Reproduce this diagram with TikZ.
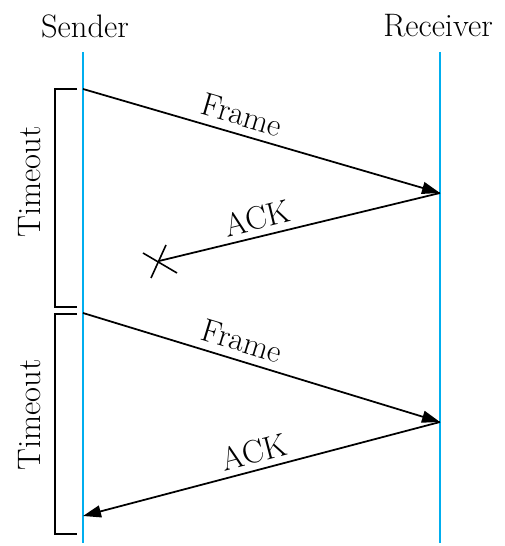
\documentclass[tikz,border=0pt]{standalone}
\usepackage{tikz}
\usepackage{color}
\usetikzlibrary{positioning, calc}
\usetikzlibrary{arrows.meta}
\definecolor{lineblue}{RGB}{0,174,239}

\begin{document}
\begin{tikzpicture}[font=\fontsize{18.5}{22}\selectfont, >={Triangle[length=3.6mm,width=2.4mm]}]
                \useasboundingbox (0,0) rectangle (10.08,10.92);
                \node (sender) at (1.7,10.4) {Sender};
                \node (receiver) at (8.76,10.4) {Receiver};
                \coordinate (stop) at (1.66,9.88);
                \coordinate (sbot) at (1.66,0.06);
                \coordinate (rtop) at (8.8,9.88);
                \coordinate (rbot) at (8.8,0.06);
                \draw[lineblue, line width=1pt] (stop) -- (sbot);
                \draw[lineblue, line width=1pt] (rtop) -- (rbot);
                % timeout brackets
                \draw[line width=0.8pt] (1.54,9.14) -- (1.1,9.14) -- (1.1,4.78) -- (1.54,4.78);
                \draw[line width=0.8pt] (1.54,4.64) -- (1.1,4.64) -- (1.1,0.24) -- (1.54,0.24);
                \node[rotate=90] (timeout1) at (0.6,7.28) {Timeout};
                \node[rotate=90] (timeout2) at (0.6,2.62) {Timeout};
                % frames and acks
                \coordinate (s1) at (1.66,9.14);
                \coordinate (r1) at (8.8,7.06);
                \coordinate (lost) at (3.18,5.70);
                \coordinate (s2) at (1.66,4.66);
                \coordinate (r2) at (8.8,2.48);
                \coordinate (s3) at (1.66,0.60);
                \draw[->, line width=1pt] (s1) -- node[pos=0.43, sloped, above=1pt] {Frame} (r1);
                \draw[line width=1pt] (lost) -- node[pos=0.364, sloped, above] {ACK} (r1);
                \draw[line width=0.9pt] (lost) +(-0.32,0.16) -- +(0.36,-0.24);
                \draw[line width=0.9pt] (lost) +(-0.16,-0.34) -- +(0.14,0.32);
                \draw[->, line width=1pt] (s2) -- node[pos=0.43, sloped, above=1pt] {Frame} (r2);
                \draw[<-, line width=1pt] (s3) -- node[pos=0.493, sloped, above] {ACK} (r2);
            \end{tikzpicture}
\end{document}
